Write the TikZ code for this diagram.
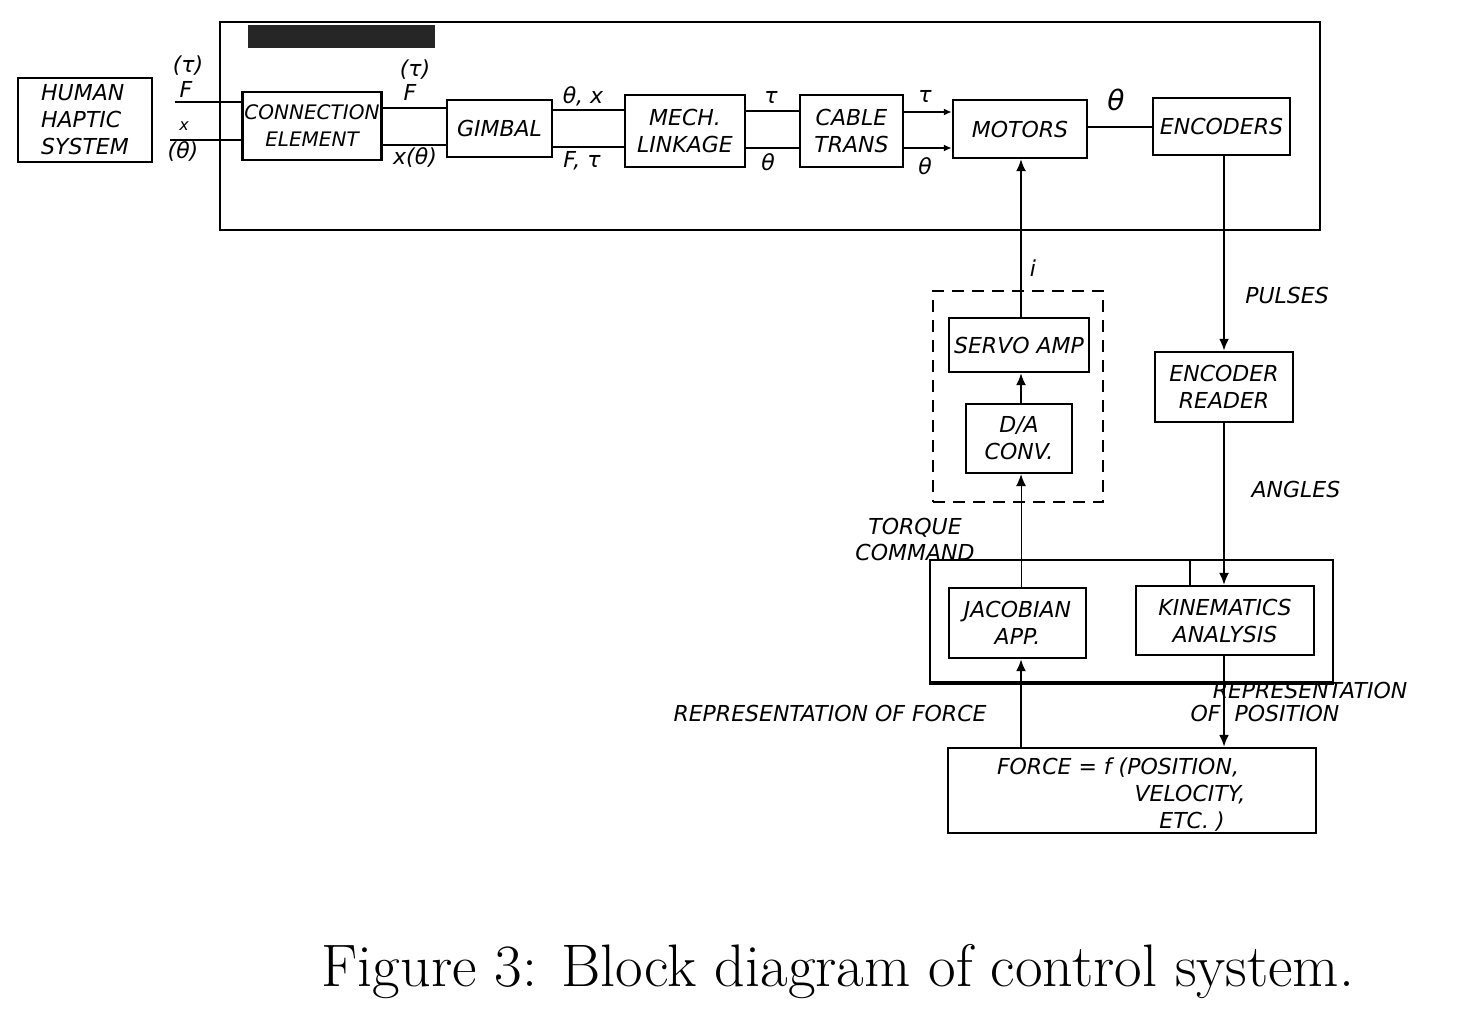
\documentclass[tikz,border=0pt]{standalone}
\usepackage{fontspec}
\newfontfamily\hand{DejaVu Sans}
\usetikzlibrary{arrows.meta}
\begin{document}
\begin{tikzpicture}[x=0.5pt,y=-0.5pt,
  blk/.style={draw, line width=1.2pt, inner sep=1pt, align=center,
    font=\hand\itshape\fontsize{11}{13.5}\selectfont},
  lbl/.style={font=\hand\itshape\fontsize{11}{13}\selectfont, inner sep=0pt, align=center},
  wire/.style={line width=0.8pt},
  arr/.style={wire, -{Latex[length=6pt,width=5pt]}},
  frame/.style={draw, line width=1pt, inner sep=0pt}]
\useasboundingbox (0,0) rectangle (1466,1021);
% frames
\node[frame, minimum width=550pt, minimum height=104pt] (outer) at (770,126) {};
\fill[black!85] (248,25) rectangle (435,48);
\node[frame, minimum width=201.5pt, minimum height=61pt] (cpu) at (1131.5,621) {};
\draw[line width=1.6pt] (cpu.south west) -- (cpu.south east);
\node[draw, line width=1pt, dash pattern=on 6pt off 4pt, minimum width=85pt, minimum height=105.5pt] (dacbox) at (1018,396.5) {};
% blocks
\node[blk, align=left, minimum width=67pt, minimum height=42pt] (human) at (85,120) {HUMAN\\HAPTIC\\SYSTEM};
\node[blk, minimum width=69pt, minimum height=34pt, font=\hand\itshape\fontsize{10}{13.5}\selectfont] (conn) at (312,126) {CONNECTION\\ELEMENT};
\node[blk, minimum width=52.5pt, minimum height=28.5pt] (gimbal) at (499.5,128.5) {GIMBAL};
\node[blk, minimum width=60pt, minimum height=36pt] (mech) at (685,131) {MECH.\\LINKAGE};
\node[blk, minimum width=51.5pt, minimum height=36pt] (cable) at (851.5,131) {CABLE\\TRANS};
\node[blk, minimum width=67pt, minimum height=29pt] (motors) at (1020,129) {MOTORS};
\node[blk, minimum width=68.5pt, minimum height=28.5pt] (encoders) at (1221.5,126.5) {ENCODERS};
\node[blk, minimum width=69pt, minimum height=35pt] (reader) at (1224,387) {ENCODER\\READER};
\node[blk, minimum width=70pt, minimum height=27pt] (servo) at (1019,345) {SERVO AMP};
\node[blk, minimum width=53pt, minimum height=34.5pt] (da) at (1019,438.5) {D/A\\CONV.};
\node[blk, minimum width=68.5pt, minimum height=35pt] (jac) at (1017.5,623) {JACOBIAN\\APP.};
\node[blk, minimum width=89pt, minimum height=34.5pt] (kin) at (1225,620.5) {KINEMATICS\\ANALYSIS};
\node[blk, minimum width=184pt, minimum height=42.5pt] (force) at (1132,790.5) {};
% helper coordinates
\coordinate (hF) at (175,102);
\coordinate (hx) at (170,140);
\coordinate (y108) at (0,108);
\coordinate (y145) at (0,145);
\coordinate (y110) at (0,110);
\coordinate (y147) at (0,147);
\coordinate (y111) at (0,111);
\coordinate (y148) at (0,148);
\coordinate (y112) at (0,112);
\coordinate (y127) at (0,127);
\coordinate (xM) at (1021,0);
\coordinate (xE) at (1224,0);
\coordinate (xT) at (1190,0);
% top chain connectors
\draw[wire] (hF) -- (conn.west |- hF);
\draw[wire] (hx) -- (conn.west |- hx);
\draw[wire] (conn.east |- y108) -- (gimbal.west |- y108);
\draw[wire] (conn.east |- y145) -- (gimbal.west |- y145);
\draw[wire] (gimbal.east |- y110) -- (mech.west |- y110);
\draw[line width=1.3pt] (gimbal.east |- y147) -- (mech.west |- y147);
\draw[wire] (mech.east |- y111) -- (cable.west |- y111);
\draw[wire] (mech.east |- y148) -- (cable.west |- y148);
\draw[wire, -{Latex[length=4pt,width=3.5pt]}] (cable.east |- y112) -- (motors.west |- y112);
\draw[wire, -{Latex[length=4pt,width=3.5pt]}] (cable.east |- y148) -- (motors.west |- y148);
\draw[wire] (motors.east |- y127) -- (encoders.west |- y127);
% vertical connectors
\draw[arr] (servo.north -| xM) -- (motors.south -| xM);
\draw[arr] (da.north -| xM) -- (servo.south -| xM);
\draw[line width=0.5pt, -{Latex[length=6pt,width=5pt]}] (jac.north -| xM) -- (da.south -| xM);
\draw[arr, line width=1.2pt] (encoders.south -| xE) -- (reader.north -| xE);
\draw[arr] (reader.south -| xE) -- (kin.north -| xE);
\draw[wire] (cpu.north -| xT) -- (kin.north -| xT);
\draw[arr, line width=1pt] (kin.south -| xE) -- (force.north -| xE);
\draw[arr, line width=1pt] (force.north -| xM) -- (jac.south -| xM);
% labels
\node[lbl] (l1) at (188,66) {(τ)};
\node[lbl] (l2) at (186,89) {F};
\node[lbl] (l3) at (184,126) {\fontsize{8}{9}\selectfont x};
\node[lbl] (l4) at (183,152) {(θ)};
\node[lbl] (l5) at (415,70) {(τ)};
\node[lbl] (l6) at (410,92) {F};
\node[lbl] (l7) at (415,158) {x(θ)};
\node[lbl] (l8) at (583,96) {θ, x};
\node[lbl] (l9) at (582,161) {F, τ};
\node[lbl] (l10) at (771,97) {τ};
\node[lbl] (l11) at (768,162) {θ};
\node[lbl] (l12) at (925,96) {τ};
\node[lbl] (l13) at (925,166) {θ};
\node[lbl, font=\hand\itshape\fontsize{14}{16}\selectfont] (l14) at (1116,100) {θ};
\node[lbl] (l15) at (1033,268) {i};
\node[lbl] (l16) at (1287,295) {PULSES};
\node[lbl] (l17) at (1296,489) {ANGLES};
\node[lbl, align=center] (l18) at (915,539) {TORQUE\\COMMAND};
\node[lbl] (l19) at (830,713) {REPRESENTATION OF FORCE};
\node[lbl] (l20) at (1310,690) {REPRESENTATION};
\node[lbl] (l21) at (1265,713) {OF\ \ POSITION};
\node[lbl] (f1) at (1118,768) {FORCE = \textit{f} (POSITION,};
\node[lbl] (f2) at (1190,795) {VELOCITY,};
\node[lbl] (f3) at (1192,822) {ETC. )};
% caption
\node[font=\rmfamily\fontsize{30}{34}\selectfont, inner sep=0pt] (cap) at (838,972) {Figure 3: Block diagram of control system.};
\end{tikzpicture}
\end{document}
